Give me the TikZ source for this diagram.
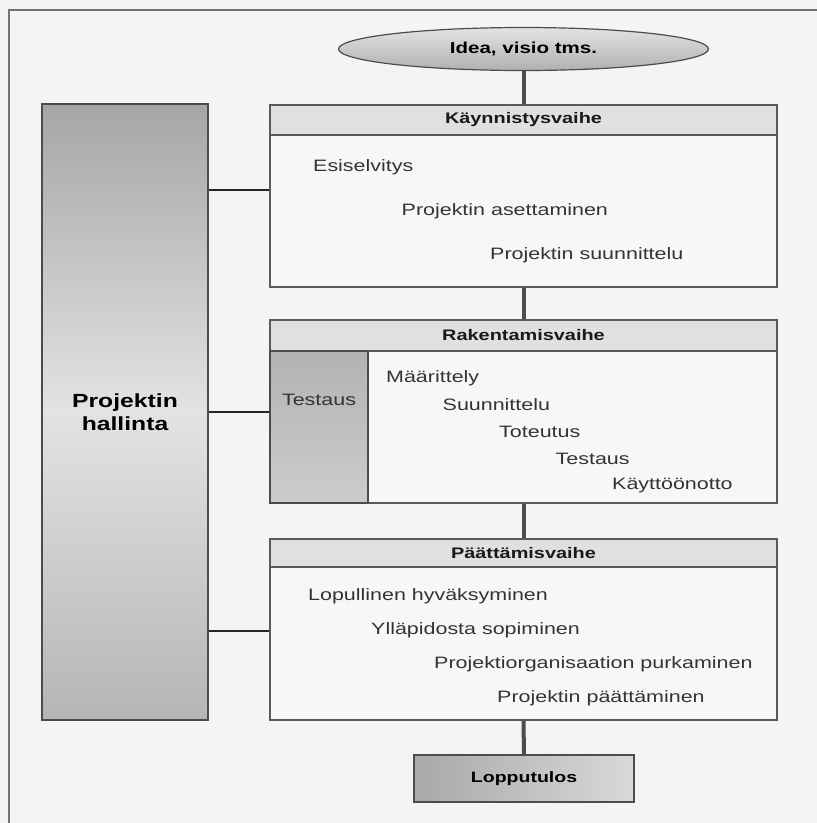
\documentclass[tikz,border=0pt]{standalone}
\usepackage{fontspec}
\setmainfont[FakeStretch=1.3]{Liberation Sans}
\usetikzlibrary{shapes.geometric}
\tikzset{font=\fontsize{16.5}{19}\selectfont}
\tikzset{
  vaihe/.style={draw=black!65, line width=1.2pt, fill=gray!6, inner sep=0pt, minimum width=507pt},
  otsikko/.style={draw=black!65, line width=1.2pt, fill=gray!24, inner sep=0pt, minimum width=507pt,
    font=\fontsize{15.3}{18}\selectfont\bfseries, text=black!90},
  harmaa/.style={draw=black!70, line width=1.2pt, inner sep=0pt},
  vaihepalkki/.style={line width=4pt, draw=black!70},
  hallintaviiva/.style={line width=2.5pt, draw=black!85},
  kohta/.style={anchor=west, inner sep=0pt, text=black!80},
}

\begin{document}
\begin{tikzpicture}[x=1pt,y=-1pt]
  \fill[gray!9] (0,0) rectangle (817,823);
  \useasboundingbox (0,0) rectangle (817,823);
  \draw[black!55, line width=1.5pt] (9,823)--(9,10)--(817,10);

  \node[ellipse, harmaa, inner ysep=8pt, minimum width=370pt, minimum height=43pt,
        top color=gray!22, bottom color=gray!62,
        font=\fontsize{15.8}{18}\selectfont\bfseries] (idea) at (523.5,49) {Idea, visio tms.};

  % kaynnistysvaihe
  \node[vaihe, minimum height=182pt] (kaynnistys) at (523.5,196) {};
  \node[otsikko, minimum height=30pt] (kaynnistysots) at (523.5,120) {Käynnistysvaihe};
  \foreach \i/\teksti in {0/Esiselvitys, 1/Projektin asettaminen, 2/Projektin suunnittelu}{
    \node[kohta] (k\i) at (313+88.5*\i, 167+44*\i) {\teksti};
  };

  % rakentamisvaihe
  \node[vaihe, minimum height=183pt] (rakentamis) at (523.5,411.5) {};
  \node[otsikko, minimum height=31pt] (rakentamisots) at (523.5,335.5) {Rakentamisvaihe};
  \node[harmaa, minimum width=98pt, minimum height=152pt,
        top color=gray!60, bottom color=gray!40] (testausbox) at (319,427) {};
  \node[inner sep=0pt, text=black!80] (testaus) at (319,400) {Testaus};
  \foreach \i/\teksti in {0/Määrittely, 1/Suunnittelu, 2/Toteutus, 3/Testaus, 4/Käyttöönotto}{
    \node[kohta] (r\i) at (386+56.5*\i, 378+26.8*\i) {\teksti};
  };

  % paattamisvaihe
  \node[vaihe, minimum height=181pt] (paattamis) at (523.5,629.5) {};
  \node[otsikko, minimum height=28pt] (paattamisots) at (523.5,553) {Päättämisvaihe};
  \foreach \i/\teksti in {0/Lopullinen hyväksyminen, 1/Ylläpidosta sopiminen,
                          2/Projektiorganisaation purkaminen, 3/Projektin päättäminen}{
    \node[kohta] (p\i) at (308+63*\i, 596+34*\i) {\teksti};
  };

  \node[harmaa, minimum width=220pt, minimum height=47pt,
        left color=gray!68, right color=gray!30,
        font=\fontsize{15}{18}\selectfont\bfseries] (lopputulos) at (524,778.5) {Lopputulos};

  \node[harmaa, minimum width=166pt, minimum height=616pt, align=center,
        top color=gray!70, bottom color=gray!58, middle color=gray!22,
        font=\fontsize{19}{22.5}\selectfont\bfseries] (hallinta) at (125,412) {Projektin\\hallinta};

  \draw[vaihepalkki] (idea.south)--(kaynnistys.north);
  \draw[vaihepalkki] (kaynnistys.south)--(rakentamis.north);
  \draw[vaihepalkki] (rakentamis.south)--(paattamis.north);
  \draw[vaihepalkki] (paattamis.south)--(lopputulos.north);

  \coordinate (h1) at (0,190);
  \coordinate (h2) at (0,412);
  \coordinate (h3) at (0,631);
  \draw[hallintaviiva] (hallinta.east |- h1)--(kaynnistys.west |- h1);
  \draw[hallintaviiva] (hallinta.east |- h2)--(testausbox.west |- h2);
  \draw[hallintaviiva] (hallinta.east |- h3)--(paattamis.west |- h3);
\end{tikzpicture}
\end{document}
